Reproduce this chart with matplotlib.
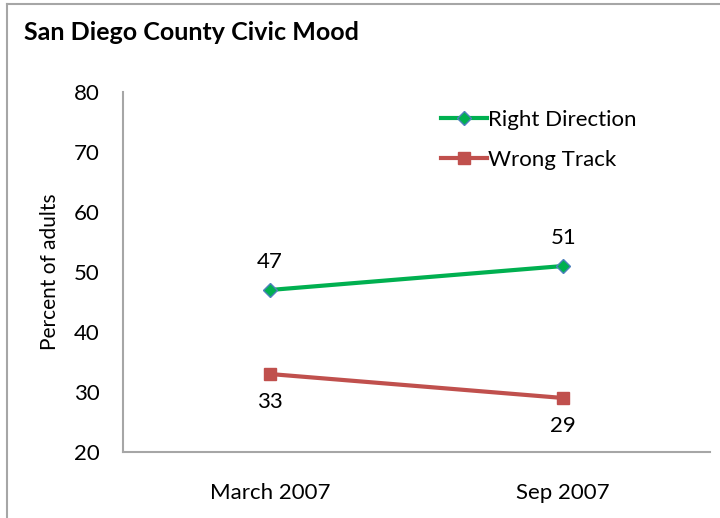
import matplotlib.pyplot as plt
from matplotlib.lines import Line2D

periods = ["March 2007", "Sep 2007"]
right_direction = [47, 51]
wrong_track = [33, 29]
y_ticks = [20, 30, 40, 50, 60, 70, 80]

plt.rcParams['font.family'] = ['Lato', 'DejaVu Sans']

fig = plt.figure(figsize=(7.2, 5.18), dpi=100)
ax = fig.add_axes([123 / 720, 1 - 452 / 518, (710 - 123) / 720, (452 - 92) / 518])

# outer chart frame (top and left edge visible)
fig.add_artist(Line2D([7 / 720, 1.0], [1 - 4 / 518, 1 - 4 / 518], color='#a6a6a6', lw=1.5))
fig.add_artist(Line2D([7 / 720, 7 / 720], [0, 1 - 4 / 518], color='#a6a6a6', lw=1.5))

x = [0, 1]
green = '#00b050'
red = '#c0504d'
ax.plot(x, right_direction, color=green, lw=3, marker='D', markersize=7,
        markerfacecolor=green, markeredgecolor='#4f81bd', markeredgewidth=1,
        label='Right Direction')
ax.plot(x, wrong_track, color=red, lw=3, marker='s', markersize=9,
        markerfacecolor=red, markeredgecolor=red, label='Wrong Track')

for xi, v in zip(x, right_direction):
    ax.annotate(str(v), (xi, v), xytext=(0, 13), textcoords='offset points',
                ha='center', va='bottom', fontsize=16)
for xi, v in zip(x, wrong_track):
    ax.annotate(str(v), (xi, v), xytext=(0, -13), textcoords='offset points',
                ha='center', va='top', fontsize=16)

ax.set_xlim(-0.5, 1.5)
ax.set_ylim(20, 80)
ax.set_yticks(y_ticks)
ax.set_xticks(x)
ax.set_xticklabels(periods)
ax.tick_params(axis='both', length=0, labelsize=16, colors='black')
ax.tick_params(axis='y', pad=17)
ax.tick_params(axis='x', pad=22)
ax.set_ylabel('Percent of adults', fontsize=15, labelpad=10)

for s in ['top', 'right']:
    ax.spines[s].set_visible(False)
for s in ['left', 'bottom']:
    ax.spines[s].set_color('#a6a6a6')
    ax.spines[s].set_linewidth(1.5)

leg = ax.legend(loc='upper left', bbox_to_anchor=(0.507, 1.006), frameon=False,
                fontsize=16, handlelength=2.1, handletextpad=0.05, labelspacing=0.9)

fig.text(24 / 720, 1 - 33 / 518, 'San Diego County Civic Mood', fontsize=18,
         fontweight='bold', va='center', ha='left')

fig.savefig('out.png', dpi=100)
